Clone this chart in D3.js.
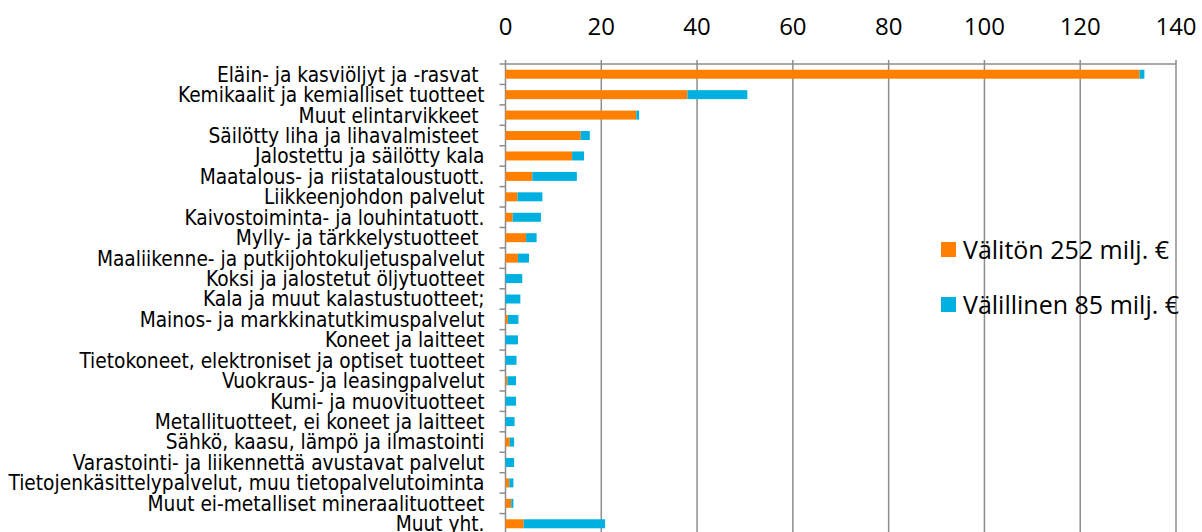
<!DOCTYPE html>
<html>
<head>
<meta charset="utf-8">
<script src="https://cdn.jsdelivr.net/npm/d3@7"></script>
<style>
  body { margin: 0; background: #fff; }
  svg { display: block; font-family: 'Open Sans', sans-serif; }
  .grid line { stroke: #8c8c8c; stroke-width: 1.5px; }
  .catLabel { font-family: 'Liberation Sans Narrow', 'DejaVu Sans Condensed', 'Open Sans', sans-serif; }
</style>
</head>
<body>
<div id="chart"></div>
<script>
// Categories, top to bottom
var categories = [
  'Eläin- ja kasviöljyt ja -rasvat ',
  'Kemikaalit ja kemialliset tuotteet',
  'Muut elintarvikkeet ',
  'Säilötty liha ja lihavalmisteet ',
  'Jalostettu ja säilötty kala',
  'Maatalous- ja riistataloustuott.',
  'Liikkeenjohdon palvelut',
  'Kaivostoiminta- ja louhintatuott.',
  'Mylly- ja tärkkelystuotteet ',
  'Maaliikenne- ja putkijohtokuljetuspalvelut',
  'Koksi ja jalostetut öljytuotteet',
  'Kala ja muut kalastustuotteet;',
  'Mainos- ja markkinatutkimuspalvelut',
  'Koneet ja laitteet',
  'Tietokoneet, elektroniset ja optiset tuotteet',
  'Vuokraus- ja leasingpalvelut',
  'Kumi- ja muovituotteet',
  'Metallituotteet, ei koneet ja laitteet',
  'Sähkö, kaasu, lämpö ja ilmastointi',
  'Varastointi- ja liikennettä avustavat palvelut',
  'Tietojenkäsittelypalvelut, muu tietopalvelutoiminta',
  'Muut ei-metalliset mineraalituotteet',
  'Muut yht.'
]

// Direct effect (orange), milj. €
var valiton = [132.4, 38, 27.3, 15.7, 13.9, 5.6, 2.5, 1.5, 4.3, 2.6, 0, 0, 0.5, 0, 0, 0.4, 0, 0, 0.9, 0, 0.8, 1.2, 3.8]
// Indirect effect (blue), milj. €
var valillinen = [1, 12.5, 0.6, 1.9, 2.5, 9.3, 5.2, 5.9, 2.2, 2.3, 3.5, 3.1, 2.2, 2.6, 2.3, 1.8, 2.2, 1.9, 0.9, 1.8, 0.85, 0.45, 17]

var seriesNames = ['Välitön 252 milj. €', 'Välillinen 85 milj. €']
var seriesColors = ['#ff8000', '#00b0e0']
var xTicks = [0, 20, 40, 60, 80, 100, 120, 140]

var width = 1202
var height = 532
var margin = { top: 64, right: 26, bottom: -2, left: 505.5 }
var plotW = width - margin.left - margin.right
var plotH = height - margin.top - margin.bottom

var svg = d3.select('#chart').append('svg')
  .attr('width', width)
  .attr('height', height)

var g = svg.append('g')
  .attr('transform', 'translate(' + margin.left + ',' + margin.top + ')')

var x = d3.scaleLinear()
  .domain([0, 140])
  .range([0, plotW])

var y = d3.scaleBand()
  .domain(categories)
  .range([0, plotH])
  .paddingInner(0.56)
  .paddingOuter(0.28)

var rows = categories.map(function (c, i) {
  return { cat: c, valiton: valiton[i], valillinen: valillinen[i] }
})
var stacked = d3.stack().keys(['valiton', 'valillinen'])(rows)

// Vertical gridlines
g.append('g')
  .attr('class', 'grid')
  .selectAll('line')
  .data(xTicks)
  .enter().append('line')
  .attr('x1', function (d) { return x(d) })
  .attr('x2', function (d) { return x(d) })
  .attr('y1', -4)
  .attr('y2', plotH)

// Top axis line
g.append('line')
  .attr('x1', 0)
  .attr('x2', plotW)
  .attr('y1', 0)
  .attr('y2', 0)
  .style('stroke', '#8c8c8c')
  .style('stroke-width', '1.5px')

// Left category ticks at band boundaries
var bandStep = plotH / categories.length
g.append('g')
  .selectAll('line')
  .data(d3.range(categories.length + 1))
  .enter().append('line')
  .attr('x1', -6)
  .attr('x2', 0)
  .attr('y1', function (d) { return d * bandStep })
  .attr('y2', function (d) { return d * bandStep })
  .style('stroke', '#8c8c8c')
  .style('stroke-width', '1.5px')

// Top tick labels
g.append('g')
  .selectAll('text')
  .data(xTicks)
  .enter().append('text')
  .attr('x', function (d) { return x(d) })
  .attr('y', -29)
  .attr('text-anchor', 'middle')
  .style('font-size', '24px')
  .style('fill', '#000')
  .text(function (d) { return d })

// Bars
g.selectAll('.series')
  .data(stacked)
  .enter().append('g')
  .attr('class', 'series')
  .style('fill', function (d, i) { return seriesColors[i] })
  .selectAll('rect')
  .data(function (d) { return d })
  .enter().append('rect')
  .attr('x', function (d) { return x(d[0]) })
  .attr('width', function (d) { return x(d[1]) - x(d[0]) })
  .attr('y', function (d) { return y(d.data.cat) })
  .attr('height', y.bandwidth())

// Category labels
var catLabels = g.append('g')
  .selectAll('text')
  .data(categories)
  .enter().append('text')
  .attr('class', 'catLabel')
  .attr('x', -21)
  .attr('y', function (d) { return y(d) + y.bandwidth() / 2 })
  .attr('dy', '0.36em')
  .attr('text-anchor', 'end')
  .style('font-size', '17px')
  .style('white-space', 'pre')
  .style('fill', '#000')
  .text(function (d) { return d })

// Fit the font so the longest label spans the same width as in the original
var longest = d3.max(catLabels.nodes(), function (n) { return n.getComputedTextLength() })
catLabels.style('font-size', (17 * 476 / longest).toFixed(2) + 'px')

// Legend
var legend = svg.append('g')
  .selectAll('g')
  .data(seriesNames)
  .enter().append('g')
  .attr('transform', function (d, i) { return 'translate(941,' + (242 + i * 55) + ')' })

legend.append('rect')
  .attr('width', 15)
  .attr('height', 15)
  .style('fill', function (d, i) { return seriesColors[i] })

legend.append('text')
  .attr('x', 22)
  .attr('y', 7.5)
  .attr('dy', '0.36em')
  .style('font-size', '25px')
  .style('fill', '#000')
  .text(function (d) { return d })
</script>
</body>
</html>
